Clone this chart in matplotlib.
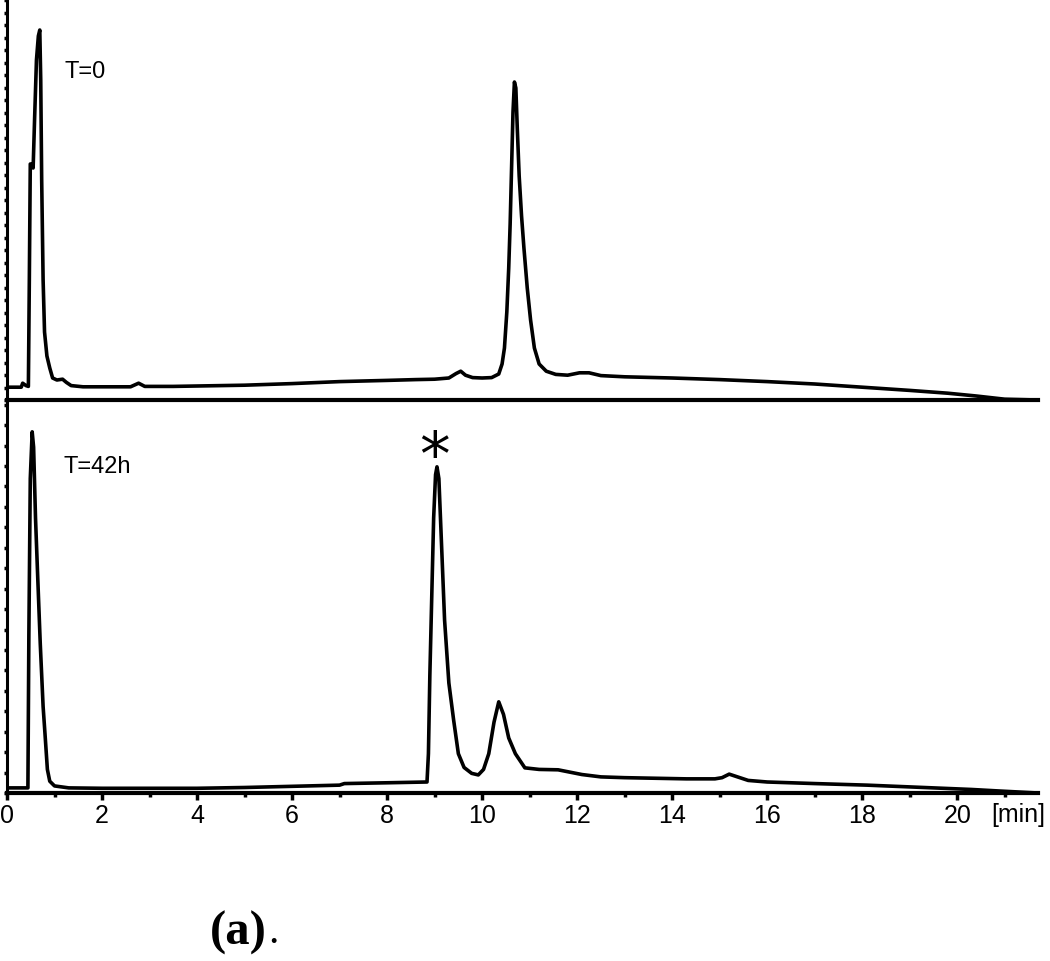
import numpy as np
import matplotlib
matplotlib.use("Agg")
import matplotlib.pyplot as plt
from matplotlib.ticker import MultipleLocator

plt.rcParams['font.family'] = ['Liberation Sans', 'DejaVu Sans']

# T=0 trace (time in min, signal in % of panel height)
t_top = [0.0, 0.30, 0.33, 0.40, 0.45, 0.47, 0.49, 0.52, 0.55, 0.58, 0.62, 0.66,
         0.69, 0.71, 0.73, 0.76, 0.79, 0.84, 0.90, 0.96, 1.05, 1.17, 1.25, 1.35,
         1.6, 2.0, 2.6, 2.77, 2.9, 3.5, 4.0, 5.0, 6.0, 7.0, 8.0, 8.6, 9.0,
         9.3, 9.45, 9.55, 9.65, 9.8, 10.0, 10.2, 10.35, 10.42, 10.47, 10.52,
         10.56, 10.59, 10.62, 10.65, 10.68, 10.71, 10.74, 10.78, 10.83, 10.88,
         10.95, 11.02, 11.1, 11.2, 11.35, 11.55, 11.8, 12.05, 12.25, 12.5,
         13.0, 14.0, 15.0, 16.0, 17.0, 18.0, 19.0, 19.8, 20.4, 21.0, 21.7]
y_top = [3.2, 3.2, 4.2, 3.6, 3.4, 30, 59, 59, 58, 70, 85, 91,
         92.5, 80, 55, 30, 17, 11, 8, 5.5, 5.0, 5.2, 4.4, 3.6,
         3.3, 3.3, 3.3, 4.2, 3.4, 3.4, 3.5, 3.7, 4.1, 4.6, 4.9, 5.1, 5.2,
         5.5, 6.6, 7.2, 6.2, 5.6, 5.5, 5.6, 6.5, 9, 13, 22,
         33, 44, 58, 72, 79.5, 78, 68, 56, 46, 38,
         28, 20, 13, 9, 7.2, 6.4, 6.2, 6.8, 6.8, 6.1,
         5.8, 5.5, 5.1, 4.6, 4.0, 3.2, 2.4, 1.7, 1.0, 0.2, 0.0]

# T=42h trace
t_bot = [0.0, 0.44, 0.46, 0.49, 0.53, 0.56, 0.60, 0.64, 0.70, 0.76, 0.80, 0.85,
         0.90, 1.0, 1.3, 2.0, 3.0, 4.0, 5.0, 6.0, 7.0, 7.1, 8.0, 8.84, 8.87,
         8.90, 8.94, 8.98, 9.02, 9.05, 9.09, 9.14, 9.21, 9.30, 9.40, 9.50, 9.62,
         9.78, 9.92, 10.03, 10.14, 10.25, 10.35, 10.45, 10.56, 10.70, 10.90,
         11.2, 11.6, 12.1, 12.5, 13.0, 14.3, 14.9, 15.05, 15.2, 15.35, 15.6,
         16.0, 17.0, 18.1, 19.5, 20.3, 20.9, 21.7]
y_bot = [1.3, 1.3, 40, 80, 91.9, 88, 70, 57, 38, 22, 15, 6,
         3, 1.8, 1.3, 1.2, 1.2, 1.2, 1.4, 1.7, 2.0, 2.4, 2.6, 2.8, 10,
         30, 50, 70, 81, 83, 80, 65, 44, 28, 18.6, 10, 6.5,
         5.0, 4.6, 6, 10, 18, 23.2, 20, 14, 10, 6.4,
         6.0, 5.9, 4.7, 4.1, 3.9, 3.6, 3.6, 3.9, 4.8, 4.2, 3.2,
         2.8, 2.4, 2.0, 1.3, 0.9, 0.5, 0.0]

xticks = [0, 2, 4, 6, 8, 10, 12, 14, 16, 18, 20]

fig = plt.figure(figsize=(10.5, 9.61), dpi=100)
ax1 = fig.add_axes([7 / 1050, 1 - 400 / 961, 1031 / 1050, 400 / 961])
ax2 = fig.add_axes([7 / 1050, 1 - 793 / 961, 1031 / 1050, 393 / 961])

ax1.plot(t_top, y_top, color='black', lw=2.6, solid_joinstyle='round')
ax2.plot(t_bot, y_bot, color='black', lw=2.6, solid_joinstyle='round')

for ax in (ax1, ax2):
    ax.set_xlim(0, 21.7)
    ax.set_ylim(0, 100)
    ax.spines['top'].set_visible(False)
    ax.spines['right'].set_visible(False)
    ax.spines['left'].set_linewidth(2.2)
    ax.spines['bottom'].set_linewidth(3)
    ax.patch.set_alpha(0)
    ax.tick_params(axis='y', which='both', direction='out', length=2.5,
                   width=2.5, labelleft=False)
    ax.set_yticks([])

ax1.yaxis.set_minor_locator(MultipleLocator(3.125))
ax2.yaxis.set_minor_locator(MultipleLocator(5.2))

ax1.set_xticks([])
ax1.tick_params(axis='x', which='both', length=0, labelbottom=False)

ax2.set_xticks(xticks)
ax2.set_xticklabels([str(v) for v in xticks])
ax2.xaxis.set_minor_locator(MultipleLocator(1))
ax2.tick_params(axis='x', which='major', direction='out', length=5, width=2.5,
                labelsize=18, pad=3)
ax2.tick_params(axis='x', which='minor', direction='out', length=3, width=2.5)

ax2.text(20.72, -2.6, '[min]', fontsize=18, ha='left', va='top')

ax1.text(1.22, 82, 'T=0', fontsize=17, ha='left', va='center')
ax2.text(1.18, 83, 'T=42h', fontsize=17, ha='left', va='center')
ax2.text(9.0, 85, '*', fontsize=44, ha='center', va='center',
         family=['DejaVu Sans'])

fig.text(210 / 1050, 1 - 933 / 961, '(a)', fontsize=35, fontweight='bold',
         family=['Liberation Serif'], ha='left', va='center')
fig.text(268 / 1050, 1 - 933 / 961, '.', fontsize=30,
         family=['Liberation Serif'], ha='left', va='center')

fig.savefig('out.png', dpi=100)
